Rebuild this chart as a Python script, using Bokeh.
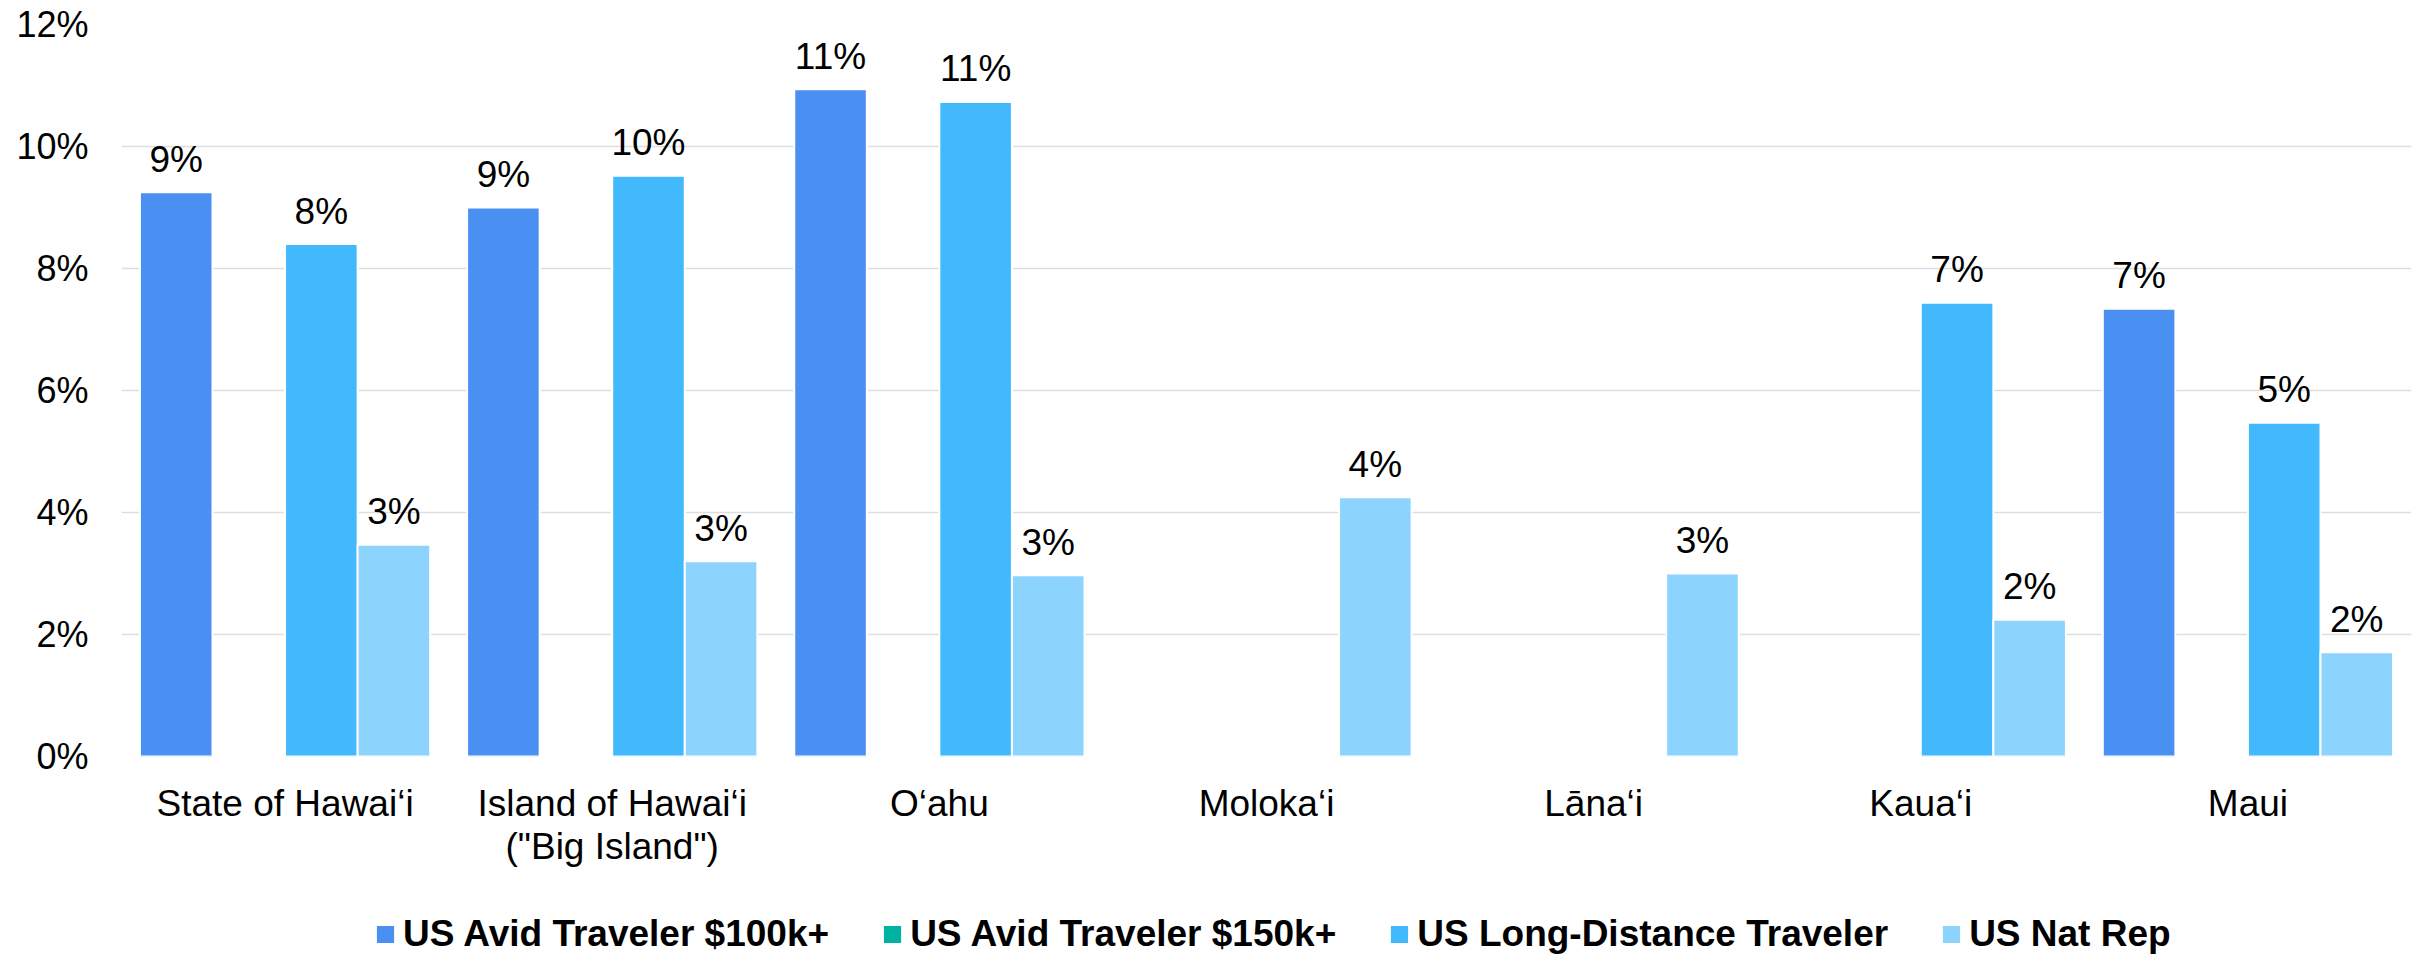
import math
from bokeh.plotting import figure
from bokeh.layouts import column
from bokeh.models import (FactorRange, Range1d, FixedTicker, PrintfTickFormatter,
                          ColumnDataSource, Legend, LegendItem)
from bokeh.transform import dodge
from bokeh.core.properties import value
from bokeh.embed import file_html
from bokeh.resources import INLINE

nan = float("nan")

categories = ["State of Hawai\u2018i", "Island of Hawai\u2018i\n(\"Big Island\")", "O\u2018ahu",
              "Moloka\u2018i", "L\u0101na\u2018i", "Kaua\u2018i", "Maui"]
series_names = ["US Avid Traveler $100k+", "US Avid Traveler $150k+",
                "US Long-Distance Traveler", "US Nat Rep"]
avid_100k = [9.25, 9.00, 10.94, nan, nan, nan, 7.34]
avid_150k = [nan, nan, nan, nan, nan, nan, nan]
long_distance = [8.40, 9.52, 10.73, nan, nan, 7.44, 5.47]
nat_rep = [3.47, 3.20, 2.97, 4.25, 3.00, 2.24, 1.71]
y_ticks = [0, 2, 4, 6, 8, 10, 12]
colors = ["#4a90f2", "#00b2a2", "#42b8fd", "#8cd3fd"]

FONT = "Liberation Sans"
slot = 0.2218
offsets = [-1.5 * slot, -0.5 * slot, 0.5 * slot, 1.5 * slot]

p = figure(x_range=FactorRange(factors=categories), y_range=Range1d(0, 12),
           width=2412, height=872, output_backend="svg", toolbar_location=None,
           min_border_left=121, min_border_right=1, min_border_top=24, min_border_bottom=116)
p.outline_line_color = None
p.background_fill_color = "white"
p.border_fill_color = "white"
p.xgrid.grid_line_color = None
p.ygrid.grid_line_color = "#dedede"
p.ygrid.grid_line_width = 1.5

p.yaxis.ticker = FixedTicker(ticks=y_ticks)
p.yaxis.formatter = PrintfTickFormatter(format="%d%%")
for ax in (p.xaxis[0], p.yaxis[0]):
    ax.axis_line_color = None
    ax.major_tick_line_color = None
    ax.minor_tick_line_color = None
    ax.major_tick_out = 0
    ax.major_tick_in = 0
    ax.major_label_text_font = FONT
    ax.major_label_text_color = "#000000"
p.yaxis.major_label_text_font_size = "36px"
p.yaxis.major_label_standoff = 33
p.xaxis.major_label_text_font_size = "37px"
p.xaxis.major_label_standoff = 26
p.xaxis.major_label_text_line_height = 1.05

for name, vals, off, col in zip(series_names, [avid_100k, avid_150k, long_distance, nat_rep], offsets, colors):
    src = ColumnDataSource(dict(x=categories, top=vals))
    p.vbar(x=dodge("x", off, range=p.x_range), top="top", bottom=0, width=slot,
           source=src, fill_color=col, line_color="white", line_width=2)
    lx = [c for c, v in zip(categories, vals) if not math.isnan(v)]
    lv = [v for v in vals if not math.isnan(v)]
    if lx:
        lsrc = ColumnDataSource(dict(x=lx, y=lv, t=["%d%%" % round(v) for v in lv]))
        p.text(x=dodge("x", off, range=p.x_range), y="y", text="t", source=lsrc,
               text_align="center", text_baseline="alphabetic", y_offset=-33,
               text_font=value(FONT), text_font_size="37px", text_color="#000000")

# legend strip below the chart
lg = figure(width=2412, height=83, x_range=Range1d(0, 1), y_range=Range1d(0, 1),
            x_axis_type=None, y_axis_type=None, output_backend="svg", toolbar_location=None,
            min_border_left=0, min_border_right=0, min_border_top=0, min_border_bottom=0)
lg.outline_line_color = None
lg.xgrid.grid_line_color = None
lg.ygrid.grid_line_color = None
items = []
for name, col in zip(series_names, colors):
    r = lg.vbar(x=[nan], top=[nan], width=0.1, fill_color=col, line_color="white", line_width=2)
    items.append(LegendItem(label=name, renderers=[r]))
legend = Legend(items=items, orientation="horizontal", location=(252, 0),
                border_line_color=None, background_fill_alpha=0,
                label_text_font=FONT, label_text_font_size="37px",
                label_text_font_style="bold", label_text_color="#000000",
                glyph_width=24, glyph_height=24, label_standoff=6, spacing=51,
                margin=0, padding=0)
lg.add_layout(legend, "center")

layout = column(p, lg, spacing=0)
open("out.html", "w").write(file_html(layout, INLINE))
